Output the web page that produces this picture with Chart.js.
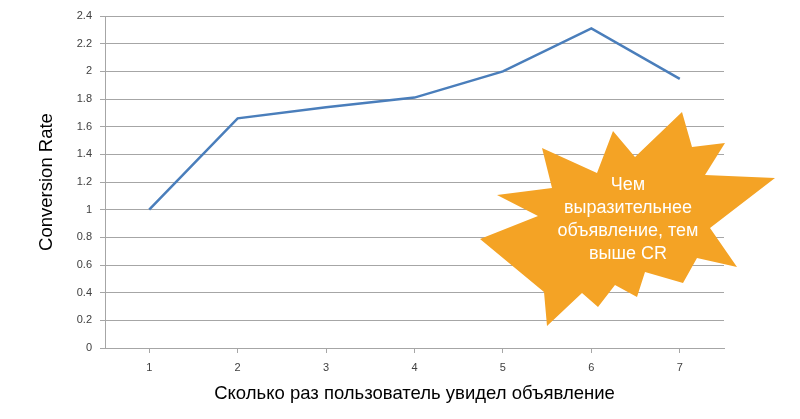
<!DOCTYPE html>
<html>
<head>
<meta charset="utf-8">
<script src="https://cdn.jsdelivr.net/npm/chart.js@4/dist/chart.umd.min.js"></script>
<style>
  html, body { margin: 0; padding: 0; background: #fff; }
  #wrap { width: 800px; height: 419px; }
</style>
</head>
<body>
<div id="wrap"><canvas id="crChart" width="800" height="419"></canvas></div>
<script>
// данные графика
var views = ['1', '2', '3', '4', '5', '6', '7'];
var conversionRate = [1.0, 1.66, 1.74, 1.81, 2.0, 2.31, 1.945];
var yTicks = [0, 0.2, 0.4, 0.6, 0.8, 1, 1.2, 1.4, 1.6, 1.8, 2, 2.2, 2.4];
var calloutLines = ['Чем', 'выразительнее', 'объявление, тем', 'выше CR'];

// звезда-выноска поверх графика
var starPlugin = {
    id: 'star',
    afterDatasetsDraw: function(chart) {
        var ctx = chart.ctx;
        var pts = [
            [682, 112], [692, 147], [725, 143], [705, 175], [775, 178], [710, 228],
            [737, 267], [697, 258], [683, 283], [645, 272], [637, 297], [615, 285],
            [598, 307], [582, 293], [547, 326], [544, 292], [480, 239], [538, 216],
            [497, 195], [552, 188], [542, 148], [597, 173], [613, 131], [635, 157]
        ];
        ctx.save();
        ctx.beginPath();
        pts.forEach(function(p, i) {
            if (i === 0) ctx.moveTo(p[0], p[1]); else ctx.lineTo(p[0], p[1]);
        });
        ctx.closePath();
        ctx.fillStyle = '#f4a325';
        ctx.fill();
        ctx.fillStyle = '#ffffff';
        ctx.font = '18px "Liberation Sans", Arial, sans-serif';
        ctx.textAlign = 'center';
        ctx.textBaseline = 'middle';
        calloutLines.forEach(function(t, i) {
            ctx.fillText(t, 628, 185 + i * 23);
        });
        ctx.restore();
    }
};

var ctx = document.getElementById('crChart').getContext('2d');
var crChart = new Chart(ctx, {
    type: 'line',
    data: {
        labels: views,
        datasets: [{
            data: conversionRate,
            borderColor: '#4a7ebb',
            borderWidth: 2.5,
            pointRadius: 0,
            tension: 0,
            fill: false
        }]
    },
    options: {
        responsive: false,
        animation: false,
        layout: { padding: { top: 16, right: 76, left: 0, bottom: 0 } },
        plugins: {
            legend: { display: false },
            tooltip: { enabled: false }
        },
        scales: {
            x: {
                offset: true,
                grid: {
                    drawOnChartArea: false,
                    drawTicks: true,
                    tickLength: 5,
                    color: '#a6a6a6'
                },
                border: { color: '#a6a6a6' },
                ticks: {
                    color: '#404040',
                    font: { family: '"Liberation Sans", Arial, sans-serif', size: 11 },
                    padding: 8
                },
                title: {
                    display: true,
                    text: 'Сколько раз пользователь увидел объявление',
                    color: '#000',
                    font: { family: '"Liberation Sans", Arial, sans-serif', size: 18.5 },
                    padding: { top: 0, bottom: 14 }
                },
                afterFit: function(scale) { scale.height = 71; }
            },
            y: {
                min: 0,
                max: 2.4,
                afterBuildTicks: function(scale) {
                    scale.ticks = yTicks.map(function(v) { return { value: v }; });
                },
                grid: {
                    color: '#a6a6a6',
                    tickLength: 5
                },
                border: { color: '#a6a6a6' },
                ticks: {
                    color: '#404040',
                    font: { family: '"Liberation Sans", Arial, sans-serif', size: 11 },
                    padding: 8
                    ,
                    callback: function(v) { return String(+v.toFixed(1)); }
                },
                title: {
                    display: true,
                    text: 'Conversion Rate',
                    color: '#000',
                    font: { family: '"Liberation Sans", Arial, sans-serif', size: 18.5 },
                    padding: { top: 36, bottom: 0 }
                },
                afterFit: function(scale) { scale.width = 105; }
            }
        }
    },
    plugins: [starPlugin]
});
</script>
</body>
</html>
